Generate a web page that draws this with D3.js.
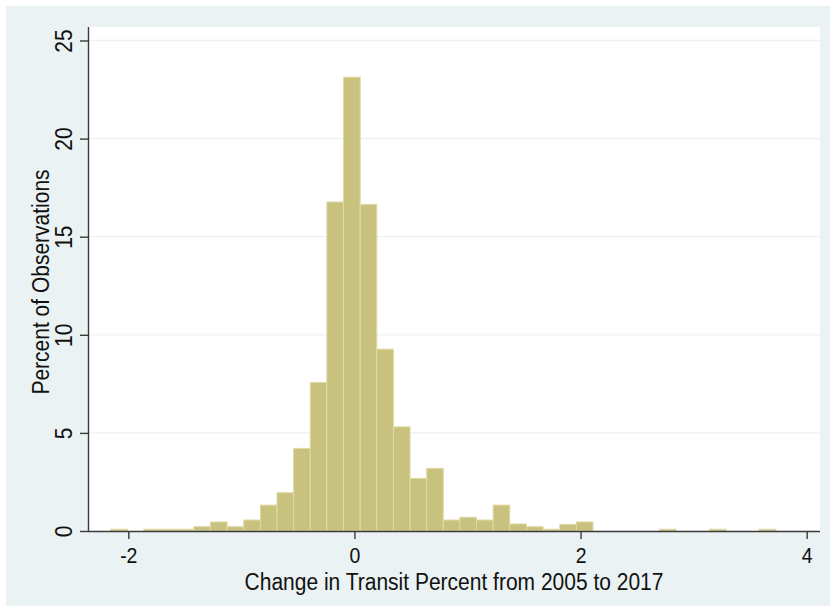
<!DOCTYPE html>
<html>
<head>
<meta charset="utf-8">
<script src="https://cdn.jsdelivr.net/npm/d3@7"></script>
<style>
  html, body { margin: 0; padding: 0; background: #ffffff; }
  svg { display: block; }
  text { font-family: "Liberation Sans", Arial, sans-serif; fill: #111; }
</style>
</head>
<body>
<svg id="chart" width="833" height="611"></svg>
<script>
// ---- Data ----
const binEdges = [-2.156, -2.009, -1.862, -1.715, -1.568, -1.420, -1.273, -1.126, -0.979, -0.832,
                  -0.685, -0.538, -0.391, -0.244, -0.097, 0.051, 0.198, 0.345, 0.492, 0.639,
                  0.786, 0.933, 1.080, 1.227, 1.374, 1.522, 1.669, 1.816, 1.963, 2.110,
                  2.257, 2.404, 2.551, 2.698, 2.845, 2.992, 3.140, 3.287, 3.434, 3.581, 3.728];
const percents = [0.09, 0, 0.09, 0.09, 0.09, 0.22, 0.46, 0.22, 0.56, 1.32,
                  1.95, 4.21, 7.57, 16.77, 23.13, 16.65, 9.27, 5.31, 2.68, 3.19,
                  0.56, 0.70, 0.56, 1.32, 0.36, 0.22, 0.09, 0.34, 0.46, 0,
                  0, 0, 0, 0.09, 0, 0, 0.09, 0, 0, 0.09];
const xTicks = [-2, 0, 2, 4];
const yTicks = [0, 5, 10, 15, 20, 25];
const xTitle = "Change in Transit Percent from 2005 to 2017";
const yTitle = "Percent of Observations";

// ---- Layout ----
const svg = d3.select("#chart");
const plot = { left: 88, right: 820, top: 27, bottom: 531 };
const x = d3.scaleLinear().domain([-2, 4]).range([128.3, 806.7]);
const y = d3.scaleLinear().domain([0, 25]).range([531, 40.5]);
const sy = 1.1;

// outer graph region
svg.append("rect").attr("x", 6).attr("y", 6).attr("width", 824).attr("height", 600)
  .attr("fill", "#eaf2f3");
// plot region
svg.append("rect").attr("x", plot.left).attr("y", plot.top)
  .attr("width", plot.right - plot.left).attr("height", plot.bottom - plot.top)
  .attr("fill", "#ffffff");

// gridlines
svg.append("g").selectAll("line").data(yTicks.filter(d => d > 0)).join("line")
  .attr("x1", plot.left).attr("x2", plot.right)
  .attr("y1", d => y(d)).attr("y2", d => y(d))
  .attr("stroke", "#eaf2f3").attr("stroke-width", 1.3);

// bars
const bins = percents.map((p, i) => ({ x0: binEdges[i], x1: binEdges[i + 1], p }));
svg.append("g").selectAll("rect").data(bins.filter(b => b.p > 0)).join("rect")
  .attr("x", d => x(d.x0))
  .attr("width", d => x(d.x1) - x(d.x0))
  .attr("y", d => y(d.p))
  .attr("height", d => y(0) - y(d.p))
  .attr("fill", "#c9c27e")
  .attr("stroke", "#dfdaa8")
  .attr("stroke-width", 1);

// x axis
const xAxis = d3.axisBottom(x).tickValues(xTicks).tickSize(8).tickFormat(d3.format("d"));
const gx = svg.append("g").attr("transform", `translate(0,${plot.bottom})`).call(xAxis);
gx.select(".domain").attr("d", `M${plot.left},0.5H${plot.right}`).attr("stroke", "#3a3a3a").attr("stroke-width", 1.4);
gx.selectAll(".tick line").attr("stroke", "#3a3a3a").attr("stroke-width", 1.4);
gx.selectAll(".tick text").remove();
gx.selectAll(".tick").append("text")
  .attr("text-anchor", "middle")
  .attr("transform", `translate(0,32) scale(1,${sy})`)
  .attr("font-size", 19.5)
  .text(d => d3.format("d")(d).replace("−", "-"));

// y axis
const yAxis = d3.axisLeft(y).tickValues(yTicks).tickSize(8);
const gy = svg.append("g").attr("transform", `translate(${plot.left},0)`).call(yAxis);
gy.select(".domain").attr("d", `M0.5,${plot.top}V${plot.bottom}`).attr("stroke", "#3a3a3a").attr("stroke-width", 1.4);
gy.selectAll(".tick line").attr("stroke", "#3a3a3a").attr("stroke-width", 1.4);
gy.selectAll(".tick text").remove();
gy.selectAll(".tick").append("text")
  .attr("text-anchor", "middle")
  .attr("transform", `translate(-16,0) rotate(-90) scale(1,${sy})`)
  .attr("font-size", 21)
  .text(d => d);

// titles
svg.append("text")
  .attr("text-anchor", "middle")
  .attr("transform", `translate(${(plot.left + plot.right) / 2},589.5) scale(1,${sy})`)
  .attr("font-size", 21)
  .text(xTitle);
svg.append("text")
  .attr("text-anchor", "middle")
  .attr("transform", `translate(49,282) rotate(-90) scale(1,${sy})`)
  .attr("font-size", 21)
  .text(yTitle);
</script>
</body>
</html>
